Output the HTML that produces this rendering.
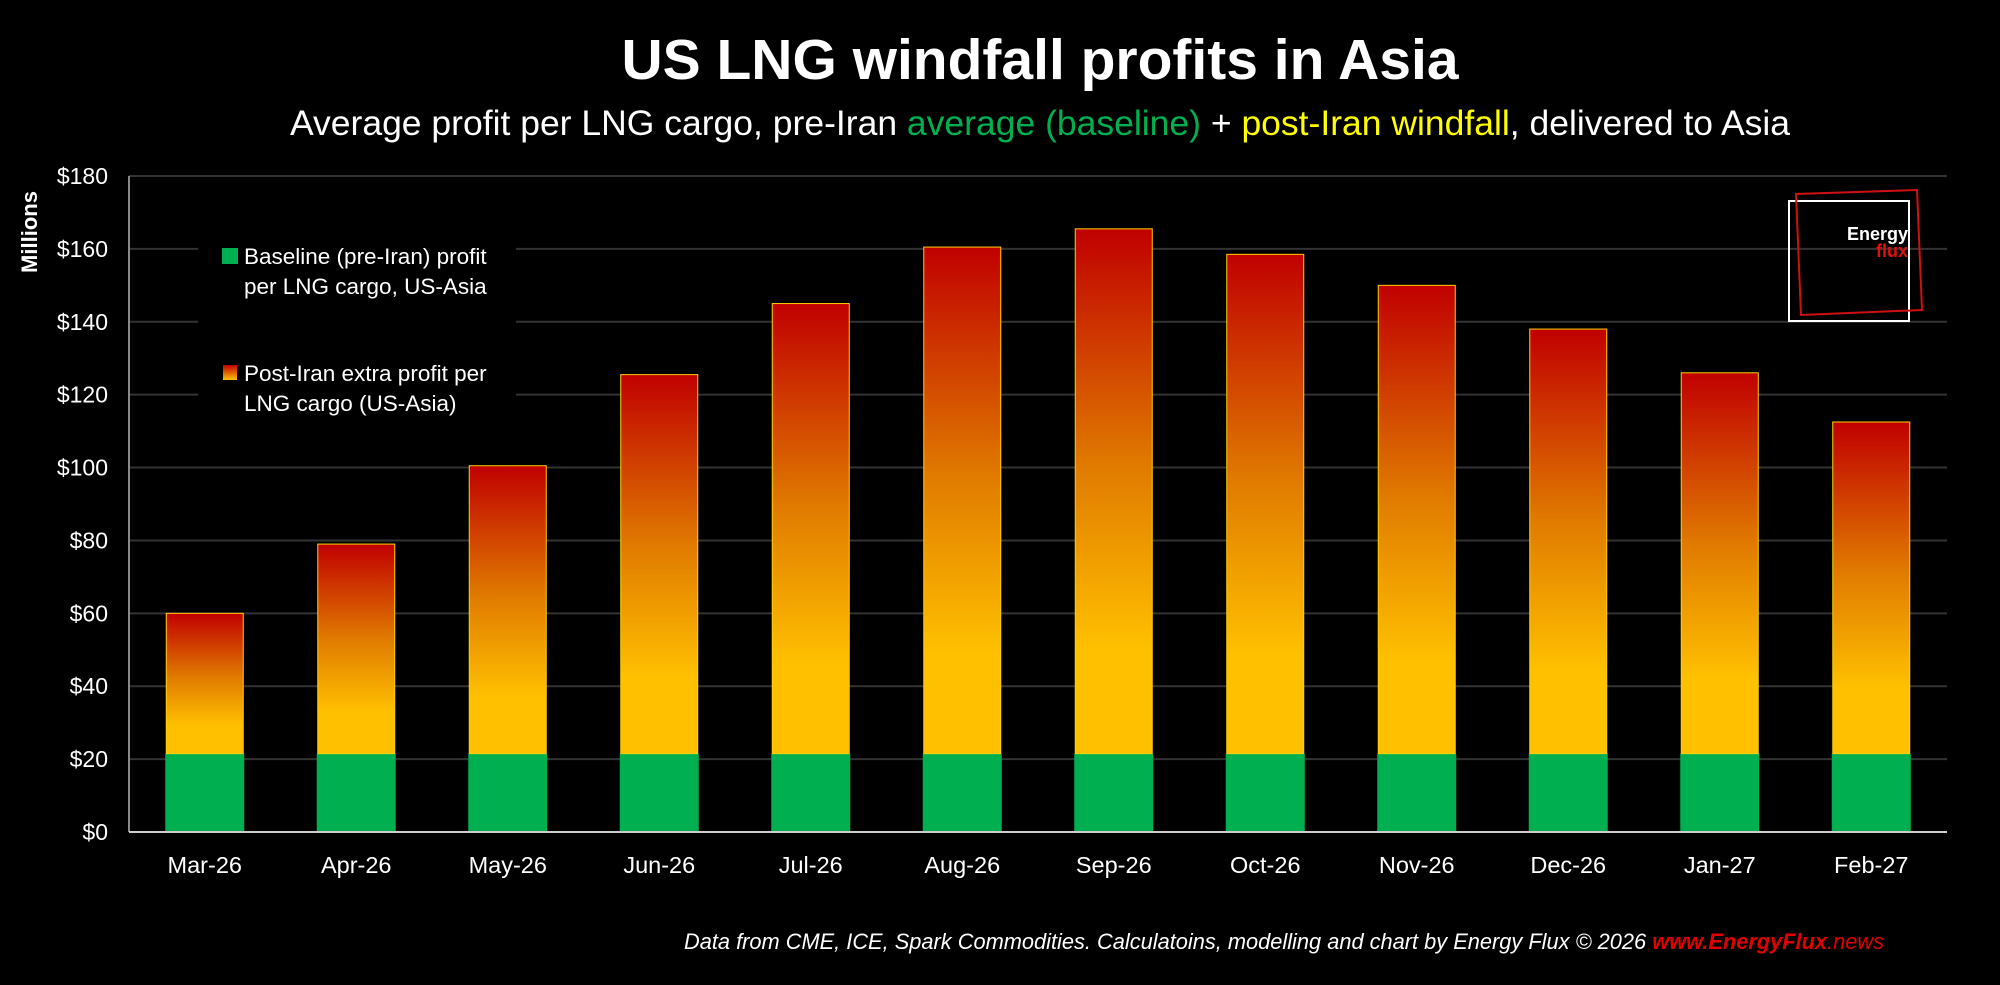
<!DOCTYPE html>
<html><head><meta charset="utf-8"><style>
html,body{margin:0;padding:0;background:#000;}
body{width:2000px;height:980px;overflow:hidden;font-family:"Liberation Sans",sans-serif;}
</style></head><body>
<svg id="chart" width="2000" height="980" xmlns="http://www.w3.org/2000/svg">
<defs>
<linearGradient id="hot" x1="0" y1="0" x2="0" y2="1">
<stop offset="0" stop-color="#c00000"/>
<stop offset="0.45" stop-color="#e07a00"/>
<stop offset="0.8" stop-color="#ffc000"/>
<stop offset="1" stop-color="#ffc000"/>
</linearGradient>
<linearGradient id="hotLeg" x1="0" y1="0" x2="0" y2="1">
<stop offset="0" stop-color="#c00000"/><stop offset="1" stop-color="#ffc000"/>
</linearGradient>
</defs>
<text x="1040" y="79" fill="#fff" font-size="57" font-weight="bold" text-anchor="middle">US LNG windfall profits in Asia</text>
<text x="1040" y="135" fill="#fff" font-size="35.5" text-anchor="middle">Average profit per LNG cargo, pre-Iran <tspan fill="#00b050">average (baseline)</tspan> + <tspan fill="#ffff00">post-Iran windfall</tspan>, delivered to Asia</text>
<g id="grid"></g>
<g id="bars"></g>
<g id="ticks"></g>
<text transform="translate(37,232) rotate(-90)" fill="#fff" font-size="22" font-weight="bold" text-anchor="middle">Millions</text>
<rect x="198" y="230" width="318" height="200" fill="#000"/>
<g>
<rect x="222" y="248" width="16" height="16" fill="#00b050"/>
<text x="244" y="264" fill="#fff" font-size="22.5">Baseline (pre-Iran) profit</text>
<text x="244" y="294" fill="#fff" font-size="22.5">per LNG cargo, US-Asia</text>
<rect x="223" y="365" width="14" height="15" fill="url(#hotLeg)"/>
<text x="244" y="381" fill="#fff" font-size="22.5">Post-Iran extra profit per</text>
<text x="244" y="411" fill="#fff" font-size="22.5">LNG cargo (US-Asia)</text>
</g>
<g>
<rect x="1789" y="201" width="120" height="120" fill="none" stroke="#fff" stroke-width="2"/>
<polygon points="1796,194 1917,190 1922,310 1801,315" fill="none" stroke="#d01010" stroke-width="2"/>
<text x="1908" y="240" fill="#fff" font-size="18" font-weight="bold" text-anchor="end">Energy</text>
<text x="1908" y="257" fill="#e01010" font-size="18" font-weight="bold" text-anchor="end">flux</text>
</g>
<text x="1884" y="949" fill="#fff" font-size="21.8" font-style="italic" text-anchor="end">Data from CME, ICE, Spark Commodities. Calculatoins, modelling and chart by Energy Flux © 2026 <tspan fill="#e00000" font-weight="bold">www.EnergyFlux</tspan><tspan fill="#e00000">.news</tspan></text>
</svg>
<script>
const categories = ["Mar-26","Apr-26","May-26","Jun-26","Jul-26","Aug-26","Sep-26","Oct-26","Nov-26","Dec-26","Jan-27","Feb-27"];
const baseline = [21.5,21.5,21.5,21.5,21.5,21.5,21.5,21.5,21.5,21.5,21.5,21.5];
const windfall = [38.5,57.5,79,104,123.5,139,144,137,128.5,116.5,104.5,91];
const yTicks = [0,20,40,60,80,100,120,140,160,180];
const yTickLabels = ["$0","$20","$40","$60","$80","$100","$120","$140","$160","$180"];

const NS = "http://www.w3.org/2000/svg";
const X0 = 129, X1 = 1947, Y0 = 832, YTOP = 176, YMAX = 180;
const step = (X1 - X0) / categories.length, bw = 79;
function y(v){ return Y0 - v / YMAX * (Y0 - YTOP); }
function xc(i){ return X0 + step * (i + 0.5); }
function mk(tag, attrs, parent){
  const e = document.createElementNS(NS, tag);
  for (const k in attrs) e.setAttribute(k, attrs[k]);
  parent.appendChild(e); return e;
}
const grid = document.getElementById('grid'), bars = document.getElementById('bars'), ticks = document.getElementById('ticks');
yTicks.forEach((t, i) => {
  if (t > 0) {
    const l = mk('line', {x1:X0, x2:X1, y1:y(t), y2:y(t), stroke:'#333', 'stroke-width':2}, grid);
    
    
  }
  const tx = mk('text', {x:108, y:y(t)+8, fill:'#fff', 'font-size':23, 'text-anchor':'end'}, ticks);
  tx.textContent = yTickLabels[i];
  
  
});
const ax = mk('line', {x1:X0, x2:X0, y1:YTOP, y2:Y0, stroke:'#888', 'stroke-width':2}, ticks);


categories.forEach((c, i) => {
  const cx = xc(i);
  const g = mk('rect', {x:cx-bw/2, y:y(baseline[i]), width:bw, height:Y0-y(baseline[i]), fill:'#00b050'}, bars);
  
  
  const top = baseline[i] + windfall[i];
  const w = mk('rect', {x:cx-bw/2+1, y:y(top), width:bw-2, height:y(baseline[i])-y(top), fill:'url(#hot)', stroke:'#ffd000', 'stroke-width':1}, bars);
  
  
  const t = mk('text', {x:cx, y:873, fill:'#fff', 'font-size':23.5, 'text-anchor':'middle'}, ticks);
  t.textContent = c;
  
  
});
const xa = mk('line', {x1:X0, x2:X1, y1:Y0, y2:Y0, stroke:'#ccc', 'stroke-width':2}, ticks);


</script>
</body></html>
